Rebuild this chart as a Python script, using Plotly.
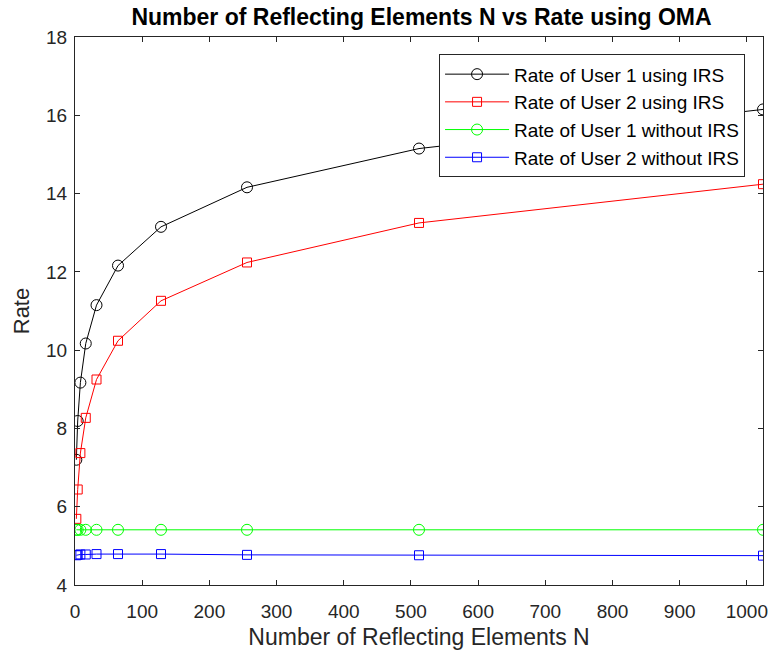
import plotly.graph_objects as go

# Number of reflecting elements
N = [2, 4, 8, 16, 32, 64, 128, 256, 512, 1024]

# Achievable rates
rate_u1_irs = [7.20, 8.19, 9.17, 10.17, 11.15, 12.16, 13.15, 14.16, 15.15, 16.15]
rate_u2_irs = [5.69, 6.44, 7.37, 8.27, 9.25, 10.24, 11.26, 12.24, 13.25, 14.24]
rate_u1_noirs = [5.41, 5.41, 5.41, 5.41, 5.41, 5.41, 5.41, 5.41, 5.41, 5.41]
rate_u2_noirs = [4.76, 4.77, 4.78, 4.78, 4.79, 4.79, 4.79, 4.77, 4.76, 4.75]

x_ticks = [0, 100, 200, 300, 400, 500, 600, 700, 800, 900, 1000]
y_ticks = [4, 6, 8, 10, 12, 14, 16, 18]

FONT = "Liberation Sans, Arial, Helvetica, sans-serif"
AX = "#262626"

series = [
    ("Rate of User 1 using IRS", rate_u1_irs, "#000000", "circle-open", 11),
    ("Rate of User 2 using IRS", rate_u2_irs, "#ff0000", "square-open", 9),
    ("Rate of User 1 without IRS", rate_u1_noirs, "#00ff00", "circle-open", 11),
    ("Rate of User 2 without IRS", rate_u2_noirs, "#0000ff", "square-open", 9),
]

fig = go.Figure()
for name, vals, color, sym, size in series:
    fig.add_trace(go.Scatter(
        x=N, y=vals, name=name, mode="lines+markers",
        line=dict(color=color, width=1),
        marker=dict(symbol=sym, size=size, color=color, line=dict(color=color, width=1)),
    ))

axis_common = dict(
    showline=True, linecolor=AX, linewidth=1, mirror="ticks",
    ticks="inside", ticklen=5, tickcolor=AX, tickwidth=1,
    showgrid=False, zeroline=False,
    tickfont=dict(family=FONT, size=19, color=AX),
)

fig.update_layout(
    width=777, height=657,
    margin=dict(l=75, r=9, t=37, b=72),
    paper_bgcolor="white", plot_bgcolor="white",
    title=dict(
        text="<b>Number of Reflecting Elements N vs Rate using OMA</b>",
        font=dict(family=FONT, size=23, color="#000000"),
        x=(75 + 768) / 2 / 777, xanchor="center",
        y=1 - 17 / 657, yanchor="middle",
    ),
    xaxis=dict(
        range=[0, 1024], tickvals=x_ticks, ticklabelstandoff=9,
        title=dict(text="Number of Reflecting Elements N",
                   font=dict(family=FONT, size=23, color=AX), standoff=8),
        **axis_common,
    ),
    yaxis=dict(
        range=[4, 18], tickvals=y_ticks, ticklabelstandoff=3,
        title=dict(text="Rate", font=dict(family=FONT, size=22, color=AX), standoff=10),
        **axis_common,
    ),
    legend=dict(
        x=(441.7 - 75) / 693, y=(585 - 54.3) / 548, xanchor="left", yanchor="top",
        bgcolor="white", bordercolor=AX, borderwidth=1,
        font=dict(family=FONT, size=19, color="#000000"),
        tracegroupgap=0, itemwidth=64,
    ),
)

fig.write_html("out.html")
